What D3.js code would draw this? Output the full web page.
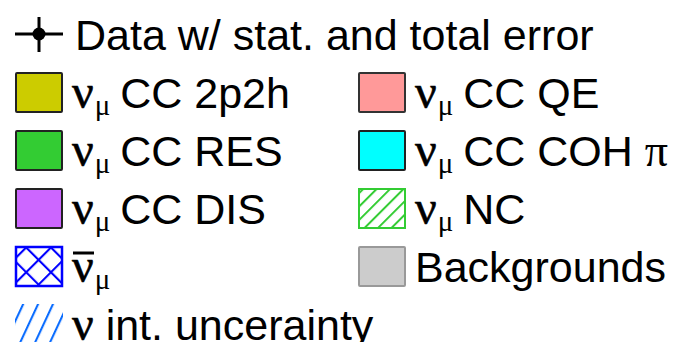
<!DOCTYPE html>
<html><head><meta charset="utf-8">
<script src="https://cdn.jsdelivr.net/npm/d3@7"></script>
<style>html,body{margin:0;padding:0;background:#fff;}svg{display:block;}</style>
</head><body>
<script>
// Legend entries (markup: {nu}, {nubar}, _{mu}, {pi})
const labels = [
  "Data w/ stat. and total error",
  "{nu}_{mu} CC 2p2h", "{nu}_{mu} CC QE",
  "{nu}_{mu} CC RES", "{nu}_{mu} CC COH {pi}",
  "{nu}_{mu} CC DIS", "{nu}_{mu} NC",
  "{nubar}_{mu}", "Backgrounds",
  "{nu} int. uncerainty"
];
const markerTypes = ["data","fill","fill","fill","fill","fill","hatchNC","cross","fill","hatchUnc"];
const fillColors = ["#000000","#cccc00","#ff9999","#33cc33","#00ffff","#cc66ff","#33cc33","#0000ff","#cccccc","#0a6cff"];
const strokeColors = ["#000000","#222222","#333333","#222222","#222222","#222222","#33cc33","#0000ff","#999999","none"];

const W = 676, H = 342;
const svg = d3.select("body").append("svg").attr("width", W).attr("height", H);
const defs = svg.append("defs");

function linePattern(id, color, spacing, angle, width){
  const p = defs.append("pattern").attr("id", id).attr("patternUnits","userSpaceOnUse")
    .attr("width", spacing).attr("height", spacing)
    .attr("patternTransform", `rotate(${angle})`);
  p.append("line").attr("x1", 1).attr("y1", -2).attr("x2", 1).attr("y2", spacing+2)
    .attr("stroke", color).attr("stroke-width", width);
}
linePattern("pNC", fillColors[6], 9.5, 45, 2);
linePattern("pX1", fillColors[7], 17.5, 45, 2.2);
linePattern("pX2", fillColors[7], 17.5, -45, 2.2);
linePattern("pU", fillColors[9], 13.5, 25, 2.2);

const font = "'Liberation Sans', Arial, Helvetica, sans-serif";
const serif = "'Liberation Serif', 'Times New Roman', serif";
const fs = 43;
const boxW = 48, boxH = 41;
const rowStep = 58;
const colX = [15, 358];
const textGap = 57;

function layout(i){
  if (i === 0) return {x: colX[0], top: 14, row: 0};
  const r = Math.floor((i - 1) / 2) + 1;
  const c = (i - 1) % 2;
  return {x: colX[c], top: 72 + (r - 1) * rowStep, row: r};
}

function renderLabel(g, str, x, y){
  const t = g.append("text").attr("x", x).attr("y", y)
    .attr("font-family", font).attr("font-size", fs).attr("fill", "#000");
  const re = /(\{nubar\}|\{nu\}|_\{mu\}|\{pi\})/g;
  const parts = str.split(re).filter(s => s.length);
  let shifted = false;
  let overbar = null;
  const sub = 7;
  parts.forEach(p => {
    if (p === "{nu}" || p === "{nubar}") {
      t.append("tspan").attr("font-family", serif).attr("font-size", 48).attr("stroke", "#000").attr("stroke-width", 0.6).text("ν");
      if (p === "{nubar}") overbar = true;
    } else if (p === "_{mu}") {
      t.append("tspan").attr("font-family", serif).attr("font-size", 29).attr("stroke", "none").attr("dx", 1).attr("dy", sub).text("μ");
      shifted = true;
    } else if (p === "{pi}") {
      t.append("tspan").attr("font-family", serif).attr("font-size", 46).attr("dy", shifted ? -sub : 0).text("π");
      shifted = false;
    } else {
      t.append("tspan").attr("stroke", "none").attr("dy", shifted ? -sub : 0).attr("dx", shifted ? -2 : 0).text(p);
      shifted = false;
    }
  });
  if (overbar) {
    g.append("line").attr("x1", x + 1).attr("x2", x + 22).attr("y1", y - 29).attr("y2", y - 29)
      .attr("stroke", "#000").attr("stroke-width", 3);
  }
}

labels.forEach((lab, i) => {
  const L = layout(i);
  const g = svg.append("g");
  const type = markerTypes[i];
  if (type === "data") {
    const cx = L.x + boxW / 2, cy = 34;
    g.append("line").attr("x1", L.x).attr("x2", L.x + boxW).attr("y1", cy).attr("y2", cy).attr("stroke", "#000").attr("stroke-width", 3);
    g.append("line").attr("x1", cx).attr("x2", cx).attr("y1", 17).attr("y2", 52).attr("stroke", "#000").attr("stroke-width", 3);
    g.append("circle").attr("cx", cx).attr("cy", cy).attr("r", 6.5).attr("fill", "#000");
    renderLabel(g, lab, L.x + textGap + 3, 50);
    return;
  }
  const bx = L.x, by = L.top;
  if (type === "fill") {
    g.append("rect").attr("x", bx + 1).attr("y", by + 1).attr("width", boxW - 2).attr("height", boxH - 2)
      .attr("fill", fillColors[i]).attr("stroke", strokeColors[i]).attr("stroke-width", 2).attr("rx", 1);
  } else if (type === "hatchNC") {
    g.append("rect").attr("x", bx + 1).attr("y", by + 1).attr("width", boxW - 2).attr("height", boxH - 2)
      .attr("fill", "url(#pNC)").attr("stroke", strokeColors[i]).attr("stroke-width", 2);
  } else if (type === "cross") {
    g.append("rect").attr("x", bx + 1).attr("y", by + 1).attr("width", boxW - 2).attr("height", boxH - 2).attr("fill", "url(#pX1)");
    g.append("rect").attr("x", bx + 1).attr("y", by + 1).attr("width", boxW - 2).attr("height", boxH - 2)
      .attr("fill", "url(#pX2)").attr("stroke", strokeColors[i]).attr("stroke-width", 2.5);
  } else if (type === "hatchUnc") {
    g.append("rect").attr("x", bx).attr("y", by).attr("width", boxW).attr("height", boxH)
      .attr("fill", "url(#pU)");
  }
  renderLabel(g, lab, bx + textGap, by + 36);
});
</script>
</body></html>
